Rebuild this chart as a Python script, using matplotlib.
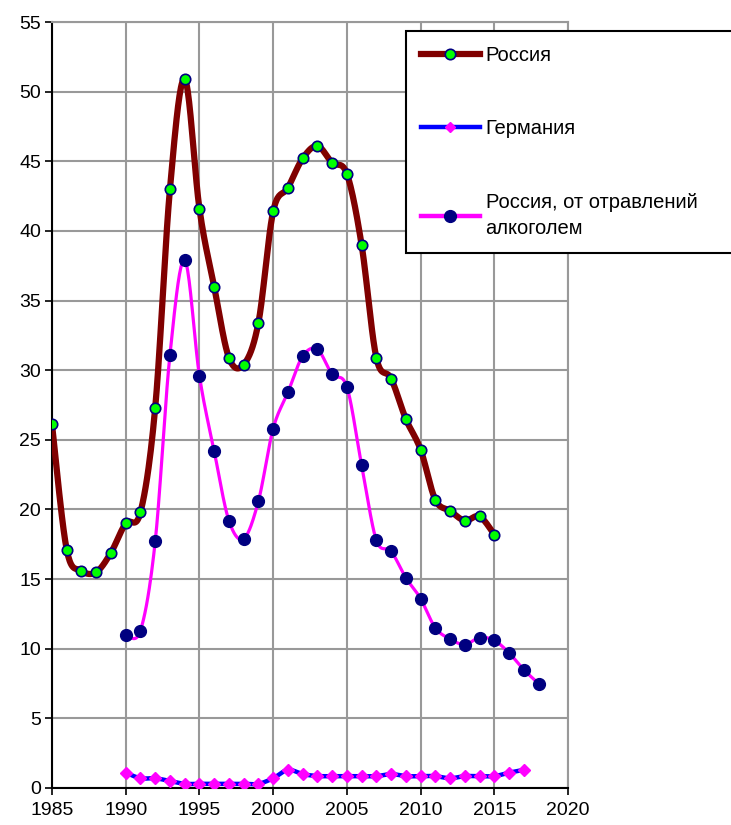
import numpy as np
import matplotlib
matplotlib.use("Agg")
import matplotlib.pyplot as plt
from matplotlib.lines import Line2D

plt.rcParams['font.family'] = ['Liberation Sans', 'DejaVu Sans']

years_ru = list(range(1985, 2016))
russia = [26.1, 17.1, 15.6, 15.5, 16.9, 19.0, 19.8, 27.3, 43.0, 50.9,
          41.6, 36.0, 30.9, 30.4, 33.4, 41.4, 43.1, 45.2, 46.1, 44.9,
          44.1, 39.0, 30.9, 29.4, 26.5, 24.3, 20.7, 19.9, 19.2, 19.5, 18.2]

years_de = list(range(1990, 2018))
germany = [1.1, 0.7, 0.7, 0.5, 0.3, 0.3, 0.3, 0.3, 0.3, 0.3,
           0.7, 1.3, 1.0, 0.86, 0.85, 0.85, 0.85, 0.85, 1.0, 0.85,
           0.85, 0.85, 0.7, 0.85, 0.85, 0.85, 1.1, 1.3]

years_alc = list(range(1990, 2019))
alcohol = [11.0, 11.3, 17.7, 31.1, 37.9, 29.6, 24.2, 19.2, 17.9, 20.6,
           25.8, 28.4, 31.0, 31.5, 29.7, 28.8, 23.2, 17.8, 17.0, 15.1,
           13.6, 11.5, 10.7, 10.3, 10.8, 10.6, 9.7, 8.5, 7.5]

labels = ['Россия', 'Германия', 'Россия, от отравлений\nалкоголем']


def smooth(x, y, n=20):
    """Catmull-Rom curve through the given points (rendering only)."""
    x = np.asarray(x, float); y = np.asarray(y, float)
    P = np.column_stack([x, y])
    P = np.vstack([P[0], P, P[-1]])
    out = []
    t = np.linspace(0, 1, n, endpoint=False)
    for i in range(1, len(P) - 2):
        p0, p1, p2, p3 = P[i - 1], P[i], P[i + 1], P[i + 2]
        t2 = t * t; t3 = t2 * t
        seg = 0.5 * ((2 * p1)[None, :] + (-p0 + p2)[None, :] * t[:, None]
                     + (2 * p0 - 5 * p1 + 4 * p2 - p3)[None, :] * t2[:, None]
                     + (-p0 + 3 * p1 - 3 * p2 + p3)[None, :] * t3[:, None])
        out.append(seg)
    out.append(P[-2][None, :])
    S = np.vstack(out)
    return S[:, 0], S[:, 1]


fig = plt.figure(figsize=(7.31, 8.25), dpi=100)
ax = fig.add_axes([52 / 731, 1 - 788 / 825, (568 - 52) / 731, (788 - 22) / 825])

# Russia
sx, sy = smooth(years_ru, russia)
ax.plot(sx, sy, color='#800000', lw=4.5, zorder=3, solid_capstyle='round')
ax.plot(years_ru, russia, ls='none', marker='o', ms=7.5, mfc='#00FF00',
        mec='#000080', mew=1.2, zorder=4)

# Germany
sx, sy = smooth(years_de, germany)
ax.plot(sx, sy, color='#0000FF', lw=3.2, zorder=3)
ax.plot(years_de, germany, ls='none', marker='D', ms=6, mfc='#FF00FF',
        mec='#FF00FF', zorder=4)

# Alcohol poisoning
sx, sy = smooth(years_alc, alcohol)
ax.plot(sx, sy, color='#FF00FF', lw=2.3, zorder=3)
ax.plot(years_alc, alcohol, ls='none', marker='o', ms=8.5, mfc='#000080',
        mec='#000080', zorder=4)

ax.set_xlim(1985, 2020)
ax.set_ylim(0, 55)
ax.set_xticks(range(1985, 2021, 5))
ax.set_yticks(range(0, 56, 5))
ax.grid(True, color='#999999', lw=1.5)
ax.set_axisbelow(True)
for s in ['top', 'right']:
    ax.spines[s].set_color('#999999')
    ax.spines[s].set_linewidth(1.5)
for s in ['left', 'bottom']:
    ax.spines[s].set_color('black')
    ax.spines[s].set_linewidth(1.5)
ax.tick_params(axis='both', labelsize=14, length=5, width=1.2, color='black', direction='out')
ax.tick_params(axis='x', pad=5)
ax.tick_params(axis='y', pad=3)

# Legend
h1 = Line2D([], [], color='#800000', lw=4.5, marker='o', ms=7.5, mfc='#00FF00', mec='#000080', mew=1.2)
h2 = Line2D([], [], color='#0000FF', lw=3.2, marker='D', ms=5, mfc='#FF00FF', mec='#FF00FF')
h3 = Line2D([], [], color='#FF00FF', lw=3.2, marker='o', ms=8.5, mfc='#000080', mec='#000080')
x0 = 406 / 731
y1 = 1 - 31 / 825
leg = fig.legend([h1, h2, h3], labels, loc='upper left',
                 bbox_to_anchor=(x0, y1 - 0.3, (745 - 406) / 731, 0.3), mode='expand',
                 fontsize=14.5, frameon=True, fancybox=False, edgecolor='black',
                 framealpha=1, handlelength=2.9, labelspacing=2.7,
                 borderpad=0.75, handletextpad=0.3, borderaxespad=0)
leg.get_frame().set_linewidth(1.5)
for t in leg.get_texts():
    t.set_linespacing(1.45)

fig.savefig('out.png', dpi=100)
